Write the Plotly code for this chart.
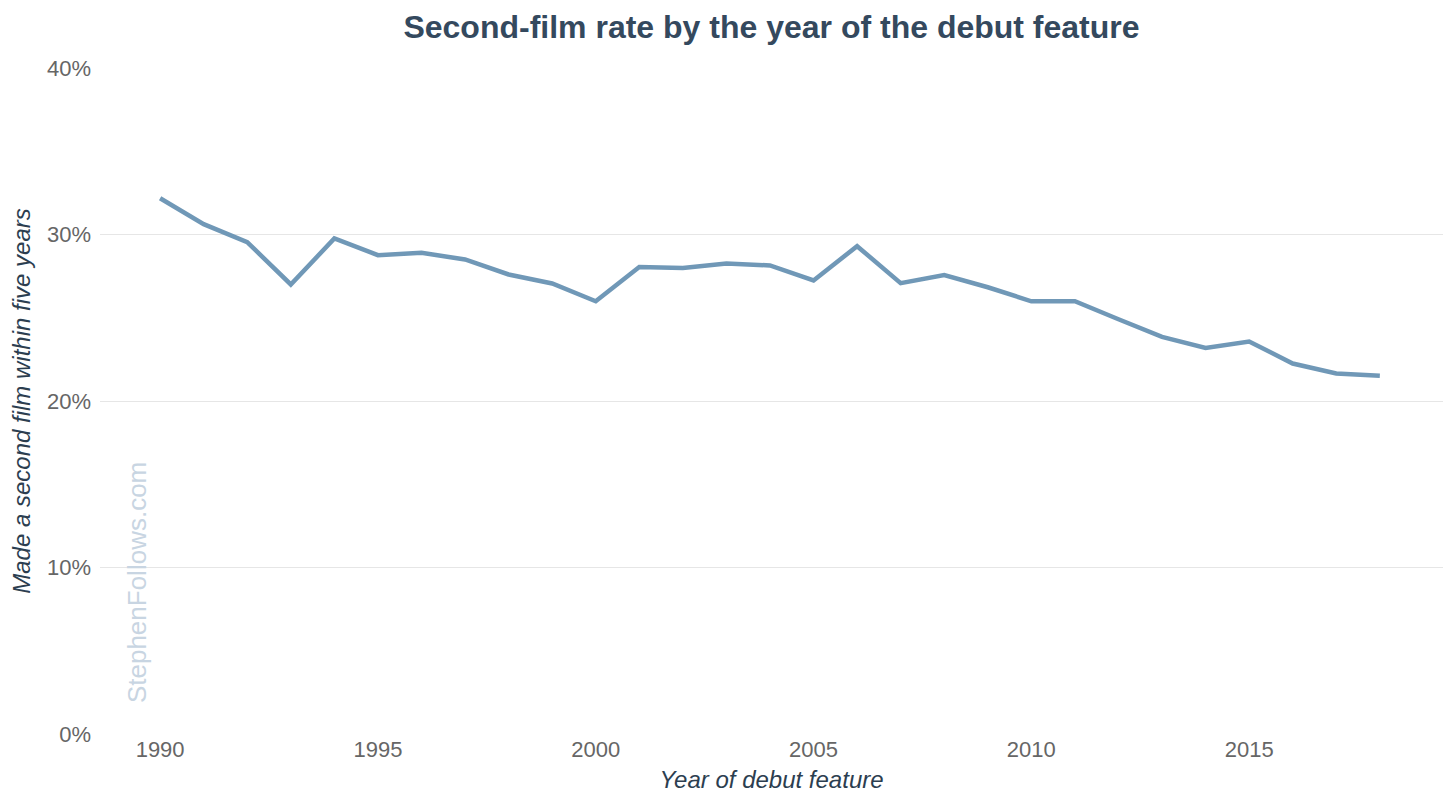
import plotly.graph_objects as go

# Data
years = list(range(1990, 2019))
second_film_rate = [
    0.3218, 0.3062, 0.2954, 0.2700, 0.2976, 0.2876, 0.2890, 0.2850,
    0.2760, 0.2706, 0.2599, 0.2805, 0.2799, 0.2826, 0.2814, 0.2724,
    0.2930, 0.2708, 0.2756, 0.2683, 0.2599, 0.2599, 0.2491, 0.2385,
    0.2319, 0.2357, 0.2225, 0.2165, 0.2151,
]
y_ticks = [0, 0.1, 0.2, 0.3, 0.4]
x_ticks = [1990, 1995, 2000, 2005, 2010, 2015]

FONT = "Liberation Sans, Arial, sans-serif"

fig = go.Figure()
fig.add_trace(
    go.Scatter(
        x=years,
        y=second_film_rate,
        mode="lines",
        line=dict(color="#7098b7", width=4.5),
        showlegend=False,
    )
)

# watermark
fig.add_annotation(
    text="StephenFollows.com",
    xref="paper", yref="paper",
    x=0.0275, y=0.228,
    xanchor="center", yanchor="middle",
    textangle=-90,
    showarrow=False,
    font=dict(family=FONT, size=26, color="#c8d5e2"),
)

# page body adds an 8px offset, margins compensate for it
fig.update_layout(
    width=1456,
    height=808,
    margin=dict(l=92, r=21, t=60, b=82),
    plot_bgcolor="white",
    paper_bgcolor="white",
    font=dict(family=FONT, color="#666666"),
    title=dict(
        text="<b>Second-film rate by the year of the debut feature</b>",
        x=0.5, xref="paper", y=1 - 19 / 808, yref="container",
        xanchor="center", yanchor="middle",
        font=dict(family=FONT, size=32, color="#34495e"),
    ),
)

fig.update_xaxes(
    range=[1988.62, 2019.45],
    tickvals=x_ticks,
    showgrid=False,
    zeroline=False,
    showline=False,
    automargin=False,
    tickfont=dict(size=22, color="#666666"),
    title=dict(
        text="<i>Year of debut feature</i>",
        font=dict(size=24, color="#2c3e50"),
        standoff=10,
    ),
)
fig.update_yaxes(
    range=[0, 0.4],
    tickvals=y_ticks,
    tickformat=".0%",
    showgrid=True,
    gridcolor="#e6e6e6",
    gridwidth=1,
    zeroline=False,
    showline=False,
    automargin=False,
    ticklabelstandoff=8,
    tickfont=dict(size=22, color="#666666"),
    title=dict(
        text="<i>Made a second film within five years</i>",
        font=dict(size=24, color="#2c3e50"),
        standoff=12,
    ),
)

fig.write_html("out.html")
